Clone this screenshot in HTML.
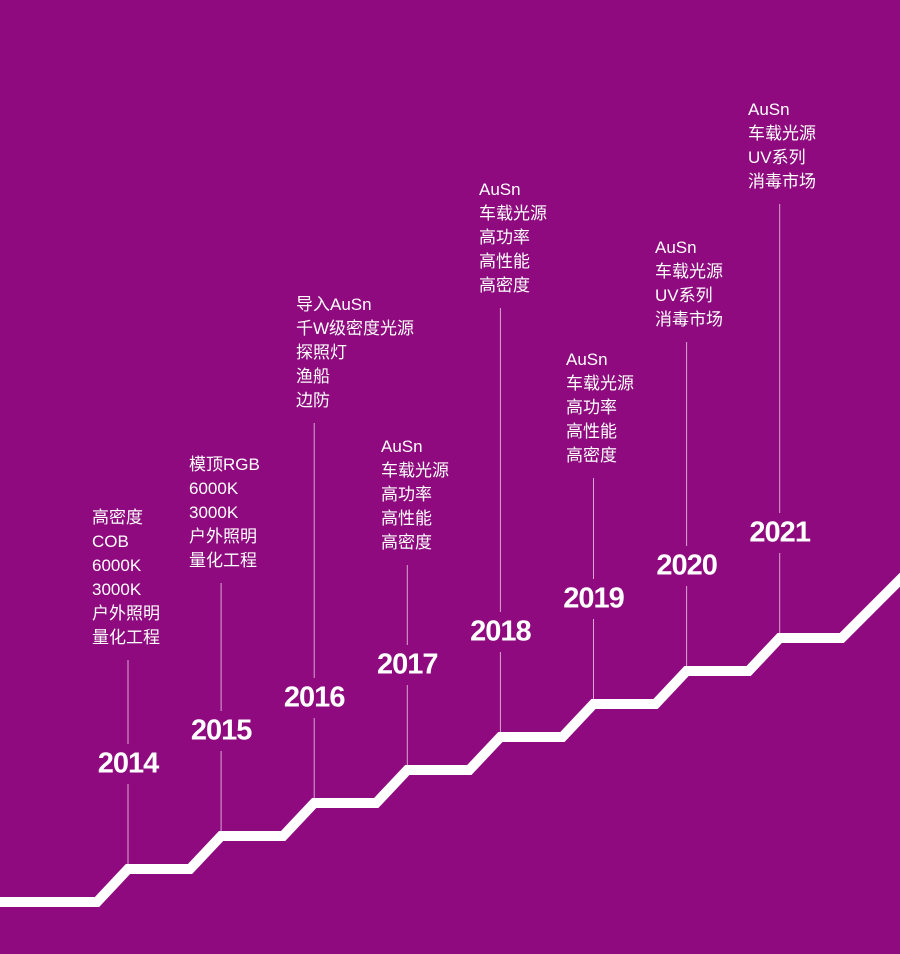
<!DOCTYPE html>
<html><head><meta charset="utf-8">
<style>
html,body{margin:0;padding:0;background:#8e0a7e;}
#wrap{position:relative;width:900px;height:954px;overflow:hidden;background:#8e0a7e;font-family:"Liberation Sans","Noto Sans CJK SC",sans-serif;color:#fff;}
.blk{position:absolute;font-size:17px;line-height:24px;white-space:nowrap;}
.yr{position:absolute;font-size:29px;font-weight:bold;letter-spacing:-1px;transform:translate(-50%,-50%);white-space:nowrap;}
svg{position:absolute;left:0;top:0;}
</style></head>
<body>
<div id="wrap">
<svg id="svg" width="900" height="954"></svg>
</div>
<script>
const years = ["2014","2015","2016","2017","2018","2019","2020","2021"];
const stepLevel = [1,2,3,4,5,6,7,8];
const texts = [
 ["高密度","COB","6000K","3000K","户外照明","量化工程"],
 ["模顶RGB","6000K","3000K","户外照明","量化工程"],
 ["导入AuSn","千W级密度光源","探照灯","渔船","边防"],
 ["AuSn","车载光源","高功率","高性能","高密度"],
 ["AuSn","车载光源","高功率","高性能","高密度"],
 ["AuSn","车载光源","高功率","高性能","高密度"],
 ["AuSn","车载光源","UV系列","消毒市场"],
 ["AuSn","车载光源","UV系列","消毒市场"]
];
const textTop = [506,453,293,435,178,348,236,98];
const textLeft = [92,189,296,381,479,566,655,748];

const NS="http://www.w3.org/2000/svg";
const svg=document.getElementById('svg');
const wrap=document.getElementById('wrap');
const x0=128, dx=93.1, yBase=902, dy=33;
const xAt=i=>x0+i*dx;
const yAt=l=>yBase-l*dy;

// staircase
let d=`M-10 ${yBase} L${xAt(0)-31} ${yBase}`;
stepLevel.forEach((l,i)=>{
  d+=` L${xAt(i)} ${yAt(l)} L${xAt(i)+62} ${yAt(l)}`;
});
d+=` L${xAt(7)+62+70} ${yAt(8)-70}`;
const path=document.createElementNS(NS,'path');
path.setAttribute('d',d);
path.setAttribute('fill','none');
path.setAttribute('stroke','#fff');
path.setAttribute('stroke-width','10');


svg.appendChild(path);

years.forEach((y,i)=>{
  const x=xAt(i);
  const platY=yAt(stepLevel[i]);
  const yearY=platY-105;
  const top=textTop[i]+texts[i].length*24+10;
  const segs=[[top,yearY-20],[yearY+20,platY-5]];
  segs.forEach(s=>{
    if(s[1]<=s[0]) return;
    const ln=document.createElementNS(NS,'line');
    ln.setAttribute('x1',x);ln.setAttribute('x2',x);
    ln.setAttribute('y1',s[0]);ln.setAttribute('y2',s[1]);
    ln.setAttribute('stroke','#d9a6d3');ln.setAttribute('stroke-width','1');
    
    
    svg.appendChild(ln);
  });
  const yl=document.createElement('div');
  yl.className='yr';
  yl.style.left=x+'px';yl.style.top=yearY+'px';
  yl.textContent=y;
  
  
  wrap.appendChild(yl);
  const b=document.createElement('div');
  b.className='blk';
  b.style.left=textLeft[i]+'px';b.style.top=textTop[i]+'px';
  b.innerHTML=texts[i].join('<br>');
  
  
  wrap.appendChild(b);
});
</script>
</body></html>
